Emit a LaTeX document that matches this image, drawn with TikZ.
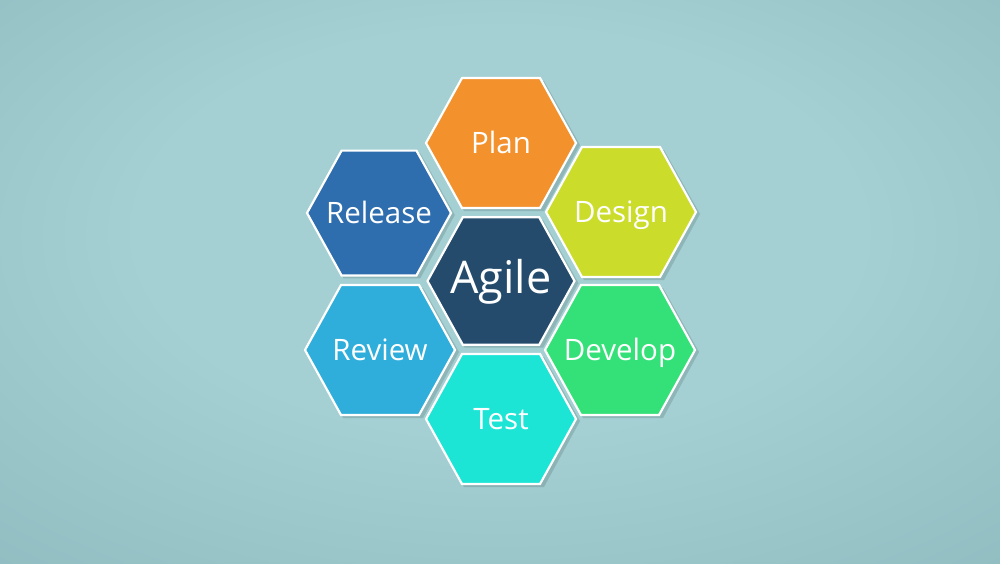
\documentclass[tikz,border=0pt]{standalone}
\usepackage{fontspec}
\setmainfont{Open Sans}
\usetikzlibrary{calc}
\definecolor{bgin}{HTML}{A4D0D3}
\definecolor{bgout}{HTML}{74A0A7}
\definecolor{cplan}{HTML}{F3912D}
\definecolor{crelease}{HTML}{2E6DAE}
\definecolor{cdesign}{HTML}{CBDC2B}
\definecolor{cagile}{HTML}{244B6C}
\definecolor{creview}{HTML}{2FAEDB}
\definecolor{cdevelop}{HTML}{34E178}
\definecolor{ctest}{HTML}{1CE5D6}
\pgfdeclareradialshading{bgshade}{\pgfpoint{0bp}{6bp}}{color(0bp)=(bgin); color(18bp)=(bgin); color(70bp)=(bgout)}
\tikzset{
  hexa/.pic={
    \path[fill=black,opacity=0.13] (-73,2) -- (-37,68) -- (43,68) -- (79,2) -- (43,-62) -- (-37,-62) -- cycle;
    \path[pic actions] (-75,0) -- (-39,-65) -- (39,-65) -- (75,0) -- (39,65) -- (-39,65) -- cycle;
  },
  hexstyle/.style={draw=white,line width=2.2pt,line join=miter},
  lbl/.style={text=white,font=\fontsize{29.5}{31}\selectfont,inner sep=0pt,anchor=base},
}
\begin{document}
\begin{tikzpicture}[x=1pt,y=-1pt]
\useasboundingbox (0,0) rectangle (1000,563);
\shade[shading=bgshade] (0,0) rectangle (1000,563);
\coordinate (cplanpt) at (501,143);
\coordinate (creleasept) at (379,213);
\coordinate (cdesignpt) at (621,212);
\coordinate (cagilept) at (501,281);
\coordinate (creviewpt) at (380,350);
\coordinate (cdeveloppt) at (620,350);
\coordinate (ctestpt) at (501,419);
\pic[hexstyle,fill=cplan] at (cplanpt) {hexa};
\pic[hexstyle,fill=crelease,scale=0.96] at (creleasept) {hexa};
\pic[hexstyle,fill=cdesign] at (cdesignpt) {hexa};
\pic[hexstyle,fill=cagile,scale=0.98] at (cagilept) {hexa};
\pic[hexstyle,fill=creview] at (creviewpt) {hexa};
\pic[hexstyle,fill=cdevelop] at (cdeveloppt) {hexa};
\pic[hexstyle,fill=ctest] at (ctestpt) {hexa};
\node[lbl] (plan) at ($(cplanpt)+(0,10)$) {Plan};
\node[lbl] (release) at ($(creleasept)+(0,10)$) {Release};
\node[lbl] (design) at ($(cdesignpt)+(0,10)$) {Design};
\node[lbl,font=\fontsize{45}{47}\selectfont] (agile) at ($(cagilept)+(0,12)$) {Agile};
\node[lbl] (review) at ($(creviewpt)+(0,10)$) {Review};
\node[lbl] (develop) at ($(cdeveloppt)+(0,10)$) {Develop};
\node[lbl] (test) at ($(ctestpt)+(0,10)$) {Test};
\end{tikzpicture}
\end{document}
